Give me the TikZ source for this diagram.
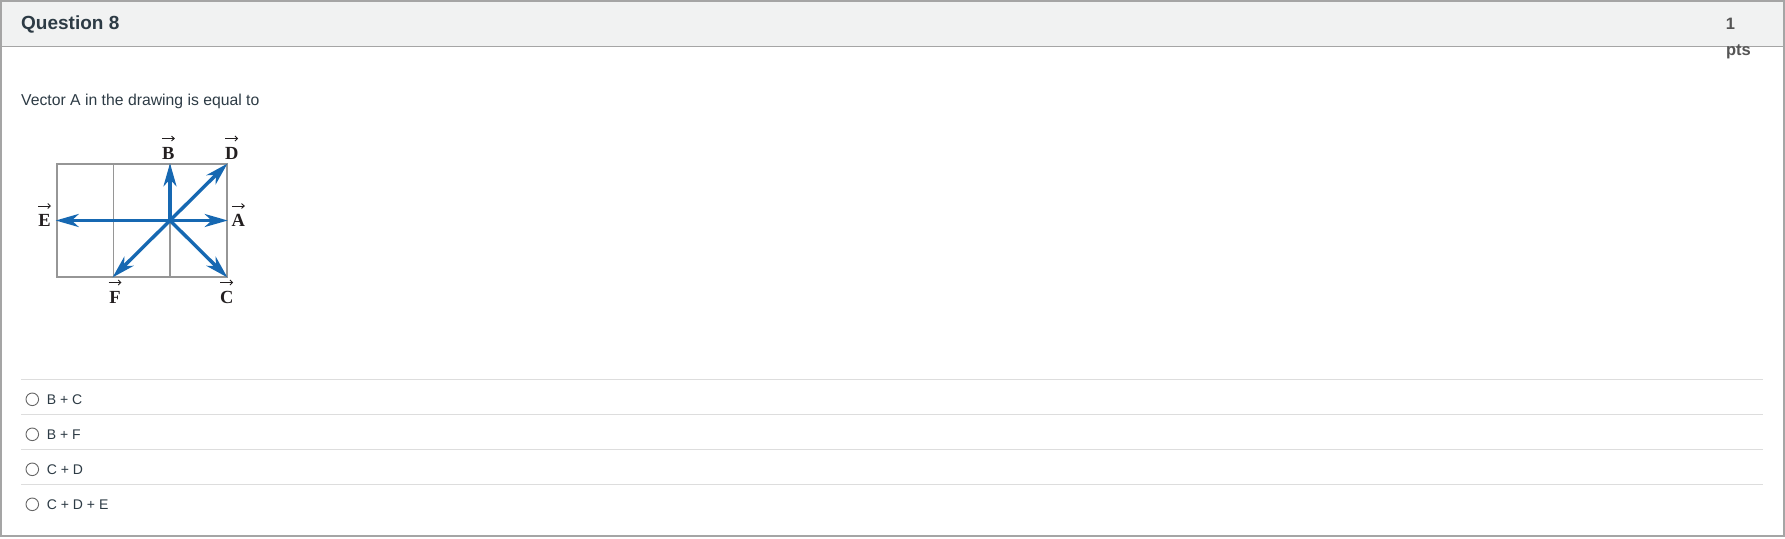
\documentclass[tikz,border=0pt]{standalone}
\usepackage{fontspec}
\setmainfont{Liberation Sans}
\newfontfamily\vecfont{Liberation Serif}
\usetikzlibrary{arrows.meta}
\definecolor{hdrfill}{RGB}{241,242,242}
\definecolor{frame}{RGB}{165,165,165}
\definecolor{txt}{RGB}{45,59,69}
\definecolor{ptsgray}{RGB}{85,85,85}
\definecolor{sep}{RGB}{221,221,221}
\definecolor{gridgray}{RGB}{150,150,150}
\definecolor{vblue}{RGB}{22,104,178}
\definecolor{vlabel}{RGB}{35,31,32}
\tikzset{
  px/.style={x=1pt,y=-1pt},
  vecarrow/.style={draw=vblue,line width=3.4pt,-{Stealth[length=23pt,width=13pt,inset=7pt]},shorten >=-1pt},
  vlabelnode/.style={anchor=base,inner sep=0pt,text=vlabel,font=\vecfont\bfseries\fontsize{18.5}{20}\selectfont},
  overarrow/.style={draw=vlabel,line width=0.9pt,-{Straight Barb[length=2.6pt,width=5pt]}},
  answertext/.style={anchor=base west,inner sep=0pt,text=txt,font=\fontsize{14}{16}\selectfont},
  radio/.style={draw=gray!80!black,line width=0.9pt,circle,minimum size=12.6pt,inner sep=0pt},
  sepline/.style={draw=sep,line width=1.2pt}
}
\begin{document}
\begin{tikzpicture}[px]
\useasboundingbox (0,0) rectangle (1785,538);
\fill[white] (0,0) rectangle (1785,538);
% header
\fill[hdrfill] (1,1) rectangle (1784,46);
\draw[frame,line width=1pt] (0,46) -- (1785,46);
\draw[frame,line width=1.6pt] (0.8,0.8) rectangle (1784,536);
\node[anchor=base west,inner sep=0pt,text=txt,font=\fontsize{19}{22}\selectfont\bfseries] (title) at (21,29) {Question 8};
\node[anchor=base,inner sep=0pt,text=ptsgray,font=\fontsize{16.5}{18}\selectfont\bfseries] (one) at (1730.5,29) {1};
\node[anchor=base,inner sep=0pt,text=ptsgray,font=\fontsize{16.5}{18}\selectfont\bfseries] (pts) at (1738.5,55) {pts};
\node[anchor=base west,inner sep=0pt,text=txt,font=\fontsize{15.75}{18}\selectfont] (q) at (21,105) {Vector A in the drawing is equal to};
% grid
\draw[gridgray,line width=2pt] (56.7,164.3) rectangle (226.7,276.7);
\draw[gridgray,line width=1.5pt] (113.3,164.3) -- (113.3,276.7);
\draw[gridgray,line width=1.5pt] (170,164.3) -- (170,276.7);
\draw[gridgray,line width=1.5pt] (56.7,220.5) -- (226.7,220.5);
% vectors
\coordinate (O) at (170,220.5);
\coordinate (pA) at (226.7,220.5);
\coordinate (pB) at (170,164.3);
\coordinate (pC) at (226.7,276.7);
\coordinate (pD) at (226.7,164.3);
\coordinate (pE) at (56.7,220.5);
\coordinate (pF) at (113.3,276.7);
\foreach \p in {pA,pB,pC,pD,pE,pF} \draw[vecarrow] (O) -- (\p);
\fill[vblue] (O) circle (2.6pt);
% labels
\node[vlabelnode] (lB) at (168.3,159) {B};
\node[vlabelnode] (lD) at (231.7,159) {D};
\node[vlabelnode] (lE) at (44.5,226.5) {E};
\node[vlabelnode] (lA) at (238.3,226.5) {A};
\node[vlabelnode] (lF) at (115,303) {F};
\node[vlabelnode] (lC) at (226.7,303) {C};
\foreach \l in {lB,lD,lE,lA,lF,lC}
  \draw[overarrow] ([xshift=-6.5pt,yshift=20.5pt]\l.base) -- ([xshift=6.5pt,yshift=20.5pt]\l.base);
% answers
\draw[sepline] (21,379.3) -- (1763.3,379.3);
\draw[sepline] (21,414.3) -- (1763.3,414.3);
\draw[sepline] (21,449.3) -- (1763.3,449.3);
\draw[sepline] (21,484.3) -- (1763.3,484.3);
\node[radio] (r1) at (32.3,399.3) {};
\node[radio] (r2) at (32.3,434.3) {};
\node[radio] (r3) at (32.3,469.3) {};
\node[radio] (r4) at (32.3,504.3) {};
\node[answertext] (a1) at (46.7,404.3) {B + C};
\node[answertext] (a2) at (46.7,439.3) {B + F};
\node[answertext] (a3) at (46.7,474.3) {C + D};
\node[answertext] (a4) at (46.7,509.3) {C + D + E};
\end{tikzpicture}
\end{document}
